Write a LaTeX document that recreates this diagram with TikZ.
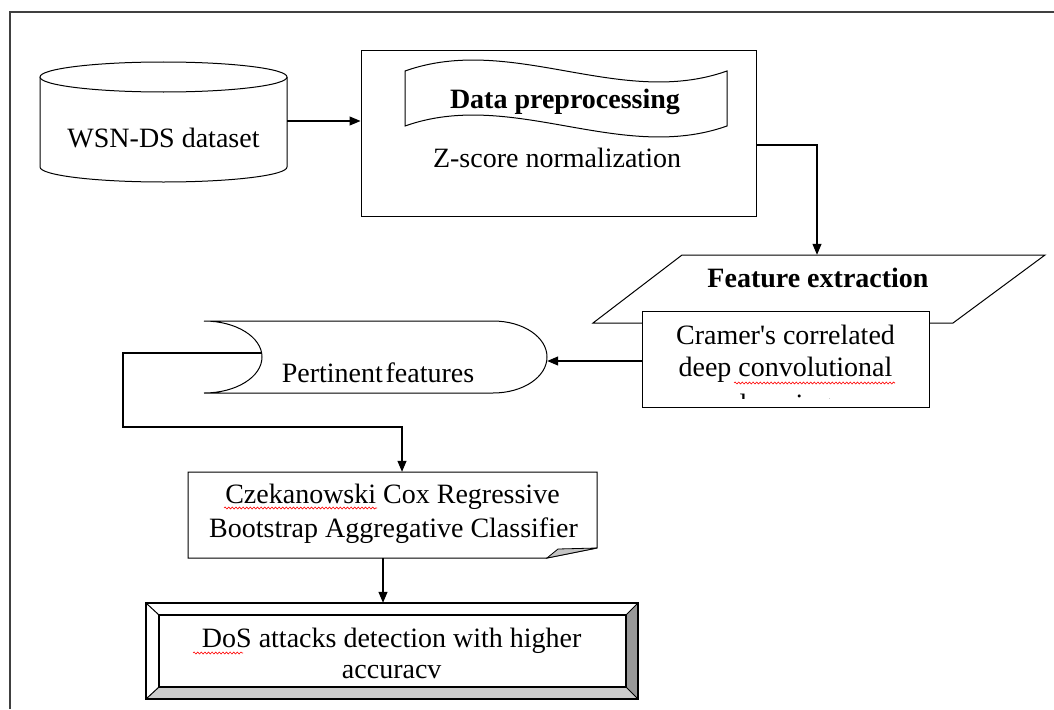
\documentclass[tikz,border=0pt]{standalone}
\usepackage{fontspec}
\setmainfont{Liberation Serif}[Ligatures=TeXOff]
\usetikzlibrary{arrows.meta,decorations.pathmorphing}
\definecolor{framegray}{HTML}{404040}
\definecolor{foldgray}{HTML}{C4C4C4}
\definecolor{bevellight}{HTML}{CCCCCC}
\definecolor{beveldark}{HTML}{999999}
\tikzset{
  shp/.style={draw=black, line width=1pt, fill=white},
  conn/.style={draw=black, line width=1.2pt, -{Triangle[length=11pt,width=9pt]}},
  txt/.style={anchor=base, inner sep=0pt, font=\fontsize{28}{32}\selectfont},
  btxt/.style={anchor=base, inner sep=0pt, font=\fontsize{28}{32}\selectfont\bfseries},
  squig/.style={draw=red, line width=0.6pt, decorate, decoration={snake, amplitude=1pt, segment length=3.6pt}},
  ghost/.style={inner sep=0pt, draw=none}
}
\begin{document}
\begin{tikzpicture}[x=1pt,y=-1pt]
\useasboundingbox (0,0) rectangle (1054,709);
\fill[white] (0,0) rectangle (1054,709);
% outer frame
\draw[draw=framegray, line width=1.5pt] (10,709) -- (10,12) -- (1054,12);

% cylinder: WSN-DS dataset
\path[shp] (40,77) -- (40,167) .. controls (40,175.3) and (95.3,182) .. (163.5,182)
  .. controls (231.7,182) and (287,175.3) .. (287,167) -- (287,77);
\path[shp] (163.5,77) ellipse [x radius=123.5, y radius=15];
\node[ghost, minimum width=247pt, minimum height=120pt] (ds) at (163.5,121) {};
\node[txt] (dsl) at (163.5,147) {WSN-DS dataset};

% data preprocessing box
\node[shp, inner sep=0pt, minimum width=395pt, minimum height=165pt] (prep) at (558.5,133.5) {};
\path[shp] (405,71) .. controls (512,33) and (620,109) .. (727,71) -- (727,126)
  .. controls (620,164) and (512,88) .. (405,126) -- cycle;
\node[btxt] (dpl) at (565,108) {Data preprocessing};
\node[txt] (zl) at (557,167) {Z-score normalization};

% feature extraction parallelogram
\path[shp] (682,255) -- (1045,255) -- (953,323) -- (593,323) -- cycle;
\node[ghost, minimum width=452pt, minimum height=68pt] (feat) at (819,289) {};
\node[btxt] (fel) at (818,287) {Feature extraction};

% Cramer box
\node[shp, inner sep=0pt, minimum width=287pt, minimum height=96pt] (cram) at (785.5,359) {};
\node[txt] (cr1) at (785.5,344) {Cramer's correlated};
\node[txt] (cr2) at (785.5,376) {deep convolutional};
\begin{scope}
  \clip (643,312) rectangle (928,398.5);
  \node[txt] (cr3) at (785.5,413) {learning};
\end{scope}
\draw[squig] (734,383) -- (895,383);

% pertinent features shape
\path[shp] (204,321) -- (493,321) .. controls (523,321) and (547,337) .. (547,357)
  .. controls (547,377) and (523,393) .. (493,393) -- (204,393)
  .. controls (236,393) and (262,377) .. (262,357)
  .. controls (262,337) and (236,321) .. (204,321) -- cycle;
\node[ghost, minimum width=343pt, minimum height=72pt] (pf) at (375.5,357) {};
\node[txt] (pfl) at (378,382) {Pertinent\hspace{0.1em}features};

% classifier (card with folded corner)
\path[shp] (188,472) -- (597,472) -- (597,548) -- (547,558) -- (188,558) -- cycle;
\path[draw=black, line width=0.8pt, fill=foldgray] (547,558) -- (558,549) -- (597,548) -- cycle;
\node[ghost, minimum width=409pt, minimum height=86pt] (clas) at (392.5,515) {};
\node[txt] (cl1) at (392.5,503) {Czekanowski Cox Regressive};
\node[txt] (cl2) at (393.5,537) {Bootstrap Aggregative Classifier};
\draw[squig] (224,508) -- (377,508);

% bevel box: DoS attacks detection
\fill[white] (146,603) rectangle (638,699);
\fill[bevellight] (146,699) -- (159,687) -- (626,687) -- (638,699) -- cycle;
\fill[beveldark] (638,603) -- (626,615) -- (626,687) -- (638,699) -- cycle;
\draw[black, line width=1.3pt] (146,603) rectangle (638,699);
\draw[black, line width=1.3pt] (159,615) rectangle (626,687);
\draw[black, line width=1pt] (146,603) -- (159,615) (638,603) -- (626,615)
  (146,699) -- (159,687) (638,699) -- (626,687);
\node[ghost, minimum width=492pt, minimum height=96pt] (dos) at (392,651) {};
\node[txt] (do1) at (391.7,647) {DoS attacks detection with higher};
\node[txt] (do2) at (391.7,678) {accuracv};
\draw[squig] (193,653) -- (243,653);

% connectors
\draw[conn] (ds.east) -- (ds.east -| prep.west);
\draw[conn] ([yshift=-11.5pt]prep.east) -| (feat.north -| 817,0);
\draw[conn] ([yshift=-2pt]cram.west) -- ([yshift=-2pt]cram.west -| pf.east);
\draw[conn] (261.6,353) -- (123,353) |- (402,427) -- (clas.north -| 402,0);
\draw[conn] (clas.south -| 383,0) -- (dos.north -| 383,0);
\end{tikzpicture}
\end{document}
